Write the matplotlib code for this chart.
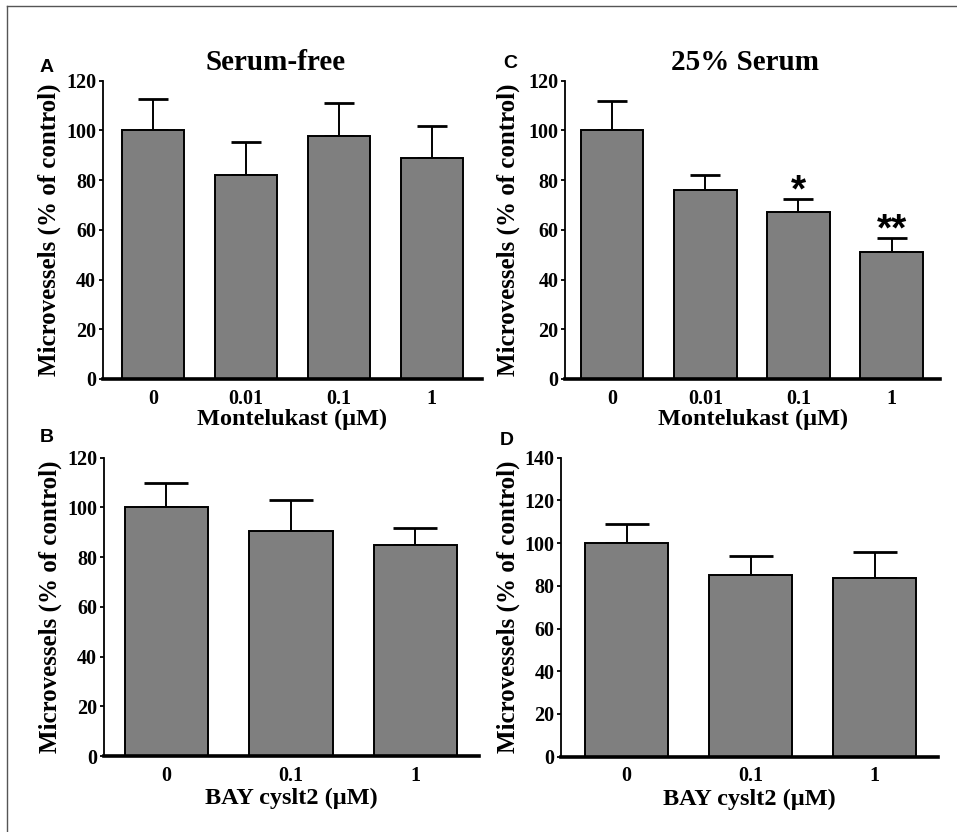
import matplotlib
matplotlib.use("Agg")
import matplotlib.pyplot as plt
from matplotlib.lines import Line2D
import numpy as np

plt.rcParams['font.family'] = ['Liberation Serif', 'DejaVu Serif']
plt.rcParams['font.weight'] = 'bold'

# ---- data ----
mont_labels = ["0", "0.01", "0.1", "1"]
bay_labels = ["0", "0.1", "1"]

serumfree_mean = [100, 82, 97.6, 88.8]
serumfree_err = [12.6, 13.2, 13.6, 12.8]

serum25_mean = [100, 76.2, 67.0, 51.0]
serum25_err = [11.9, 6.0, 5.5, 5.8]
serum25_sig = ["", "", "*", "**"]

bay_sf_mean = [100, 90.4, 84.7]
bay_sf_err = [9.9, 12.7, 7.1]

bay_25_mean = [100, 85.2, 83.8]
bay_25_err = [9.0, 8.6, 12.0]

W, H = 957, 832
fig = plt.figure(figsize=(W / 100, H / 100), dpi=100)

def px_axes(l, r, b, t):
    return fig.add_axes([l / W, 1 - b / H, (r - l) / W, (b - t) / H])

BAR_COLOR = "#7f7f7f"

def panel(ax, labels, means, errs, ymax, ystep, xlim, capsize, xlabel, ylab_x, xlab_y, sig=None):
    x = np.arange(len(labels))
    ax.bar(x, means, width=0.67, color=BAR_COLOR, edgecolor="black", linewidth=1.4, zorder=2)
    ax.errorbar(x, means, yerr=[np.zeros(len(means)), errs], fmt="none", ecolor="black",
                elinewidth=1.4, capsize=capsize, capthick=2.0, zorder=1)
    ax.set_xlim(*xlim)
    ax.set_ylim(0, ymax)
    ax.set_yticks(np.arange(0, ymax + 1, ystep))
    ax.set_xticks(x)
    ax.set_xticklabels(labels)
    for s in ["top", "right"]:
        ax.spines[s].set_visible(False)
    ax.spines["left"].set_linewidth(1.3)
    ax.spines["bottom"].set_linewidth(2.6)
    ax.tick_params(axis="y", direction="out", length=3, width=1.3, pad=2, labelsize=14.5)
    ax.tick_params(axis="x", length=0, pad=7, labelsize=14.5)
    ax.set_ylabel("Microvessels (% of control)", fontsize=18, fontweight="bold")
    ax.yaxis.set_label_coords(ylab_x, 0.5)
    ax.set_xlabel(xlabel, fontsize=17.5, fontweight="bold")
    ax.xaxis.set_label_coords(0.5, xlab_y)
    if sig:
        for xi, m, e, s in zip(x, means, errs, sig):
            if s:
                ax.text(xi, m + e - 1.2, s, ha="center", va="baseline", fontsize=28,
                        fontweight="bold", family=["Liberation Sans", "DejaVu Sans"])

axA = px_axes(103, 482, 379, 80.7)
panel(axA, mont_labels, serumfree_mean, serumfree_err, 120, 20, (-0.54, 3.54), 11,
      "Montelukast (\u03bcM)", -0.112, -0.1)

axC = px_axes(565.3, 940, 379, 80.7)
panel(axC, mont_labels, serum25_mean, serum25_err, 120, 20, (-0.505, 3.52), 11,
      "Montelukast (\u03bcM)", -0.122, -0.1, sig=serum25_sig)

axB = px_axes(104, 479, 756, 457.7)
panel(axB, bay_labels, bay_sf_mean, bay_sf_err, 120, 20, (-0.5, 2.51), 15.5,
      "BAY cyslt2 (\u03bcM)", -0.113, -0.108)

axD = px_axes(561.3, 938, 756.7, 457.7)
panel(axD, bay_labels, bay_25_mean, bay_25_err, 140, 20, (-0.527, 2.51), 15.5,
      "BAY cyslt2 (\u03bcM)", -0.11, -0.108)

# titles
fig.text(275.5 / W, 1 - 62 / H, "Serum-free", ha="center", va="center", fontsize=21, fontweight="bold")
fig.text(745 / W, 1 - 62 / H, "25% Serum", ha="center", va="center", fontsize=21, fontweight="bold")

# panel letters
for lab, (px, py) in {"A": (47, 68), "C": (510, 64), "B": (47, 438), "D": (507, 441)}.items():
    fig.text(px / W, 1 - py / H, lab, ha="center", va="center", fontsize=14, fontweight="bold",
             family=["Liberation Sans", "DejaVu Sans"])

# outer frame (left and top lines)
fig.add_artist(Line2D([7 / W, 7 / W], [0, 1 - 6 / H], color="#555555", linewidth=1.0))
fig.add_artist(Line2D([7 / W, 1], [1 - 6 / H, 1 - 6 / H], color="#555555", linewidth=1.0))

fig.savefig("out.png", dpi=100)
